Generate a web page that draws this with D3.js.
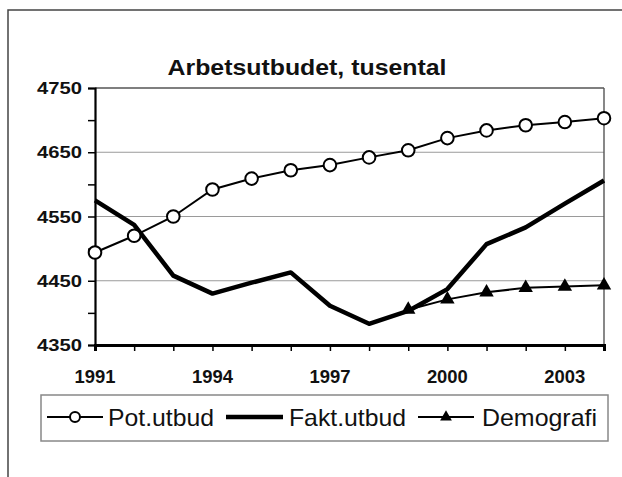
<!DOCTYPE html>
<html>
<head>
<meta charset="utf-8">
<script src="https://cdn.jsdelivr.net/npm/d3@7"></script>
<style>
  html, body { margin: 0; padding: 0; background: #fff; }
  svg { display: block; }
  text { font-family: "Liberation Sans", Arial, sans-serif; fill: #111; }
</style>
</head>
<body>
<svg id="chart" width="622" height="477"></svg>
<script>
const years = d3.range(1991, 2005);
const potUtbud = [4494, 4520, 4550, 4592, 4609, 4622, 4630, 4642, 4653, 4672, 4684, 4692, 4697, 4703];
const faktUtbud = [4575, 4537, 4458, 4430, 4447, 4463, 4411, 4383, 4403, 4437, 4507, 4533, 4570, 4606];
const demoYears = [1999, 2000, 2001, 2002, 2003, 2004];
const demografi = [4405, 4421, 4432, 4439, 4441, 4443];
const yTickLabels = [4350, 4450, 4550, 4650, 4750];
const xTickLabels = [1991, 1994, 1997, 2000, 2003];
const seriesNames = ["Pot.utbud", "Fakt.utbud", "Demografi"];
const title = "Arbetsutbudet, tusental";

const svg = d3.select("#chart");
const x = d3.scaleLinear().domain([1991, 2004]).range([95, 604]);
const y = d3.scaleLinear().domain([4350, 4750]).range([345, 88]);

// outer frame (cropped)
svg.append("path").attr("d", "M8,477 L8,10 L622,10")
  .attr("fill", "none").attr("stroke", "#444").attr("stroke-width", 1.5);

// title
svg.append("text").attr("x", 307).attr("y", 75).attr("text-anchor", "middle")
  .attr("font-size", 22).attr("font-weight", "bold")
  .attr("textLength", 279).attr("lengthAdjust", "spacingAndGlyphs")
  .text(title);

// gridlines
svg.append("g").selectAll("line").data([4450, 4550, 4650]).join("line")
  .attr("x1", x(1991)).attr("x2", x(2004))
  .attr("y1", d => y(d)).attr("y2", d => y(d))
  .attr("stroke", "#9a9a9a").attr("stroke-width", 1.2);
// top and right frame of plot
svg.append("line").attr("x1", x(1991)).attr("x2", x(2004)).attr("y1", y(4750)).attr("y2", y(4750))
  .attr("stroke", "#555").attr("stroke-width", 1.6);
svg.append("line").attr("x1", x(2004)).attr("x2", x(2004)).attr("y1", y(4750)).attr("y2", y(4350))
  .attr("stroke", "#555").attr("stroke-width", 1.4);

// y axis
const yAxis = d3.axisLeft(y).tickValues(d3.range(4350, 4751, 50)).tickSize(7).tickFormat("");
const gy = svg.append("g").attr("transform", `translate(${x(1991)},0)`).call(yAxis);
gy.select(".domain").attr("stroke", "#000").attr("stroke-width", 2.2);
gy.selectAll(".tick line").attr("stroke", "#000").attr("stroke-width", 1.5);
svg.append("g").selectAll("text").data(yTickLabels).join("text")
  .attr("x", 82).attr("y", d => y(d) + 6).attr("text-anchor", "end")
  .attr("font-size", 17).attr("font-weight", "bold")
  .attr("textLength", 45).attr("lengthAdjust", "spacingAndGlyphs")
  .text(d => d);

// x axis
const xAxis = d3.axisBottom(x).tickValues(years).tickSize(6).tickFormat("");
const gx = svg.append("g").attr("transform", `translate(0,${y(4350)})`).call(xAxis);
gx.select(".domain").attr("stroke", "#000").attr("stroke-width", 3);
gx.selectAll(".tick line").attr("stroke", "#000").attr("stroke-width", 1.5);
svg.append("g").selectAll("text").data(xTickLabels).join("text")
  .attr("x", d => x(d)).attr("y", 383).attr("text-anchor", "middle")
  .attr("font-size", 19).attr("font-weight", "bold")
  .attr("textLength", 41).attr("lengthAdjust", "spacingAndGlyphs")
  .text(d => d);

const line = d3.line().x(d => x(d[0])).y(d => y(d[1]));
const potData = years.map((yr, i) => [yr, potUtbud[i]]);
const faktData = years.map((yr, i) => [yr, faktUtbud[i]]);
const demoData = demoYears.map((yr, i) => [yr, demografi[i]]);

const tri = d3.symbol().type(d3.symbolTriangle).size(90);
const triLegend = d3.symbol().type(d3.symbolTriangle).size(60);

// Fakt
svg.append("path").datum(faktData).attr("d", line)
  .attr("fill", "none").attr("stroke", "#000").attr("stroke-width", 4.5).attr("stroke-linejoin", "round");
// Demografi
svg.append("path").datum(demoData).attr("d", line)
  .attr("fill", "none").attr("stroke", "#000").attr("stroke-width", 2);
svg.append("g").selectAll("path").data(demoData).join("path")
  .attr("d", tri).attr("transform", d => `translate(${x(d[0])},${y(d[1])})`).attr("fill", "#000");
// Pot
svg.append("path").datum(potData).attr("d", line)
  .attr("fill", "none").attr("stroke", "#000").attr("stroke-width", 2);
svg.append("g").selectAll("circle").data(potData).join("circle")
  .attr("cx", d => x(d[0])).attr("cy", d => y(d[1])).attr("r", 6.3)
  .attr("fill", "#fff").attr("stroke", "#000").attr("stroke-width", 2);

// legend
const lg = svg.append("g");
lg.append("rect").attr("x", 41).attr("y", 395).attr("width", 567).attr("height", 46)
  .attr("fill", "#fff").attr("stroke", "#888").attr("stroke-width", 1.5);
const ly = 417;
const items = [
  {name: seriesNames[0], x1: 47, x2: 103, tx: 108, tw: 106, sym: "circle", w: 2},
  {name: seriesNames[1], x1: 226, x2: 283, tx: 289, tw: 117, sym: null, w: 4.5},
  {name: seriesNames[2], x1: 418, x2: 474, tx: 482, tw: 115, sym: "tri", w: 2}
];
items.forEach(it => {
  lg.append("line").attr("x1", it.x1).attr("x2", it.x2).attr("y1", ly).attr("y2", ly)
    .attr("stroke", "#000").attr("stroke-width", it.w);
  const cx = (it.x1 + it.x2) / 2;
  if (it.sym === "circle") {
    lg.append("circle").attr("cx", cx).attr("cy", ly).attr("r", 5)
      .attr("fill", "#fff").attr("stroke", "#000").attr("stroke-width", 2);
  } else if (it.sym === "tri") {
    lg.append("path").attr("d", triLegend).attr("transform", `translate(${cx},${ly})`).attr("fill", "#000");
  }
  lg.append("text").attr("x", it.tx).attr("y", 426).attr("font-size", 24)
    .attr("textLength", it.tw).attr("lengthAdjust", "spacingAndGlyphs")
    .text(it.name);
});
</script>
</body>
</html>
